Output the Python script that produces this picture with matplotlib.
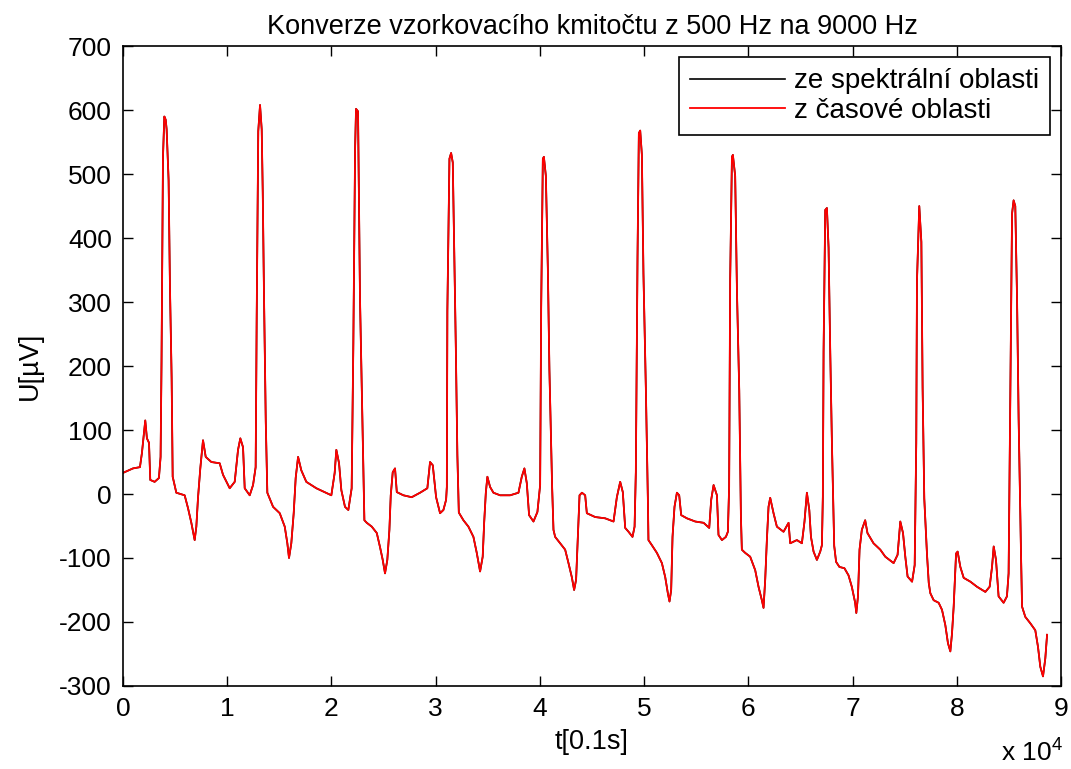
import numpy as np
import matplotlib
matplotlib.use("Agg")
import matplotlib.pyplot as plt

plt.rcParams['font.family'] = ['Liberation Sans', 'DejaVu Sans']
plt.rcParams['mathtext.fontset'] = 'custom'
plt.rcParams['mathtext.rm'] = 'Liberation Sans'
plt.rcParams['axes.unicode_minus'] = False

# samples (upsampled to 9000 Hz) and voltage in uV
t = [0, 960, 1630, 1820, 2140, 2300, 2500, 2620, 3040, 3450, 3610, 3700, 3840, 3970, 4100, 4190, 4380, 4510, 4670, 4770,
     4800, 5120, 5920, 6240, 6560, 6880, 7040, 7200, 7420, 7680, 7940, 8480, 9280, 9600, 10240, 10720, 11040, 11260,
     11520, 11680, 12160, 12480, 12730,
     12830, 12980, 13150, 13310, 13410, 13530, 13700, 13850,
     14400, 15040, 15520, 15770, 15930, 16150, 16380, 16570, 16800, 17110, 17590, 18550, 19990, 20310, 20470, 20730,
     20950, 21300, 21620, 21940,
     22100, 22270, 22360, 22550, 22620, 22740, 22970, 23160,
     23390, 23870, 24350, 24660, 24920, 25140, 25360, 25560, 25690, 25880, 26100, 26270, 26900, 27700, 28500, 29200,
     29460, 29720, 30040, 30420, 30740, 31000,
     31070, 31120, 31320, 31480, 31640, 31770, 31930, 32080, 32220,
     32660, 33140, 33620, 33940, 34260, 34510, 34650, 34810, 34960, 35220, 35540, 36180, 37140, 37940, 38260, 38510,
     38740, 38960, 39380, 39760, 40020,
     40120, 40280, 40380, 40570, 40760, 40910, 41170, 41300,
     41460, 41940, 42420, 42740, 43060, 43280, 43470, 43640, 43800, 44030, 44340, 44500, 45300, 46260, 47060, 47380,
     47700, 47950, 48180, 48500, 48880, 49080, 49200,
     49360, 49490, 49620, 49780, 49930, 50160, 50360,
     50410, 50740, 51220, 51700, 52020, 52270, 52430, 52590, 52720, 52910, 53140, 53360, 53550, 54100, 54900, 55700,
     56240, 56430, 56660, 56980, 57130, 57460, 57840, 58030, 58150,
     58250, 58420, 58510, 58730, 58900, 59120, 59280,
     59370, 59690, 60170, 60650, 60970, 61290, 61450, 61610, 61770, 61930, 62090, 62410, 62730, 63370, 63850, 64010,
     64650, 65130, 65380, 65610, 65840, 66000, 66250, 66570, 66890, 67050, 67140,
     67210, 67370, 67530, 67690, 67850, 68010, 68230,
     68410, 68730, 69210, 69600, 69920, 70240, 70350, 70510, 70660, 70880, 71200, 71420, 72000, 72650, 73130, 73930,
     74310, 74570, 74830, 75050, 75270, 75700, 75950,
     76100, 76170, 76390, 76590, 76710, 76870, 77130,
     77300, 77450, 77770, 78250, 78570, 78890, 79140, 79370, 79530, 79690, 79920, 80070, 80330, 80650, 81290, 81930,
     82730, 83140, 83370, 83530, 83750, 84000, 84480, 84800, 84960,
     85120, 85290, 85440, 85600, 85770, 85920, 86150,
     86250, 86560, 87040, 87520, 87780, 88000, 88260, 88480, 88650]

u = [33, 40, 42, 64, 115, 87, 80, 22, 19, 25, 58, 206, 527, 590, 585, 570, 490, 323, 181, 27,
     25, 2, -2, -22, -45, -72, -51, -6, 40, 84, 58, 50, 48, 30, 9, 19, 69, 87,
     73, 9, -2, 14, 42,
     277, 567, 608, 570, 472, 311, 113, 2,
     -20, -30, -51, -77, -100, -77, -30, 25, 58, 37, 19, 9, -2, 33, 69, 48,
     6, -20, -25, 9,
     234, 540, 602, 598, 484, 305, 116, -41,
     -45, -51, -61, -83, -103, -124, -103, -56, -2, 34, 40, 3, -2, -5, 2, 9,
     50, 45, -5, -30, -25, -9,
     11, 286, 524, 533, 518, 391, 231, 61, -29,
     -41, -51, -67, -92, -121, -98, -45, 2, 27, 11, 2, -2, -2, 2, 27, 40,
     17, -33, -43, -28, 14,
     292, 524, 527, 497, 352, 194, 11, -56,
     -67, -77, -87, -108, -130, -150, -134, -67, -2, 2, -2, -30, -36, -38, -43, -5,
     19, 3, -53, -59, -67, -51, 34,
     367, 564, 568, 530, 345, 166, -13,
     -72, -80, -92, -108, -130, -155, -168, -150, -67, -20, 2, -2, -33, -38, -43, -45,
     -53, -9, 14, -2, -64, -72, -67, -59, 11,
     336, 527, 530, 497, 317, 162, -35,
     -87, -92, -98, -119, -145, -166, -178, -134, -72, -20, -6, -30, -51, -59, -45, -77,
     -72, -77, -43, 2, -25, -67, -90, -103, -90, -80, -4,
     222, 444, 447, 385, 222, 80, -81,
     -106, -114, -116, -127, -145, -170, -186, -160, -87, -56, -41, -61, -77, -87, -98, -108,
     -95, -43, -61, -98, -129, -137, -111,
     80, 333, 450, 394, 166, -7, -94,
     -139, -155, -166, -170, -181, -205, -233, -246, -218, -176, -93, -90, -114, -131, -137, -145,
     -153, -145, -114, -82, -103, -160, -170, -160, -124,
     156, 438, 459, 450, 305, 119, -94,
     -176, -192, -202, -213, -239, -270, -285, -257, -220]

xticks = [0, 10000, 20000, 30000, 40000, 50000, 60000, 70000, 80000, 90000]
xticklabels = ['0', '1', '2', '3', '4', '5', '6', '7', '8', '9']
yticks = [-300, -200, -100, 0, 100, 200, 300, 400, 500, 600, 700]

fig = plt.figure(figsize=(10.71, 7.69), dpi=100)
ax = fig.add_axes([0.1148, 0.108, 0.876, 0.832])

ax.plot(t, u, color='black', linewidth=1.2, label='ze spektrální oblasti')
ax.plot(t, u, color='red', linewidth=1.3, label='z časové oblasti')

ax.set_xlim(0, 90000)
ax.set_ylim(-300, 700)
ax.set_xticks(xticks)
ax.set_xticklabels(xticklabels)
ax.set_yticks(yticks)

ax.tick_params(direction='in', top=True, right=True, length=7, width=1.0,
               labelsize=19, pad=8)
for s in ax.spines.values():
    s.set_linewidth(1.2)

ax.set_title('Konverze vzorkovacího kmitočtu z 500 Hz na 9000 Hz', fontsize=19.5, pad=9)
ax.set_xlabel('t[0.1s]', fontsize=19.5, labelpad=6)
ax.set_ylabel('U[µV]', fontsize=19.5, labelpad=12)
fig.text(0.992, 0.004, r'x 10$^{4}$', fontsize=19, ha='right', va='bottom')

leg = ax.legend(loc='upper right', fontsize=20, fancybox=False, framealpha=1,
                edgecolor='black', handlelength=3.4, labelspacing=0.12,
                borderpad=0.4, handletextpad=0.33, borderaxespad=0.4)
leg.get_frame().set_linewidth(1.2)

fig.savefig('out.png', dpi=100)
